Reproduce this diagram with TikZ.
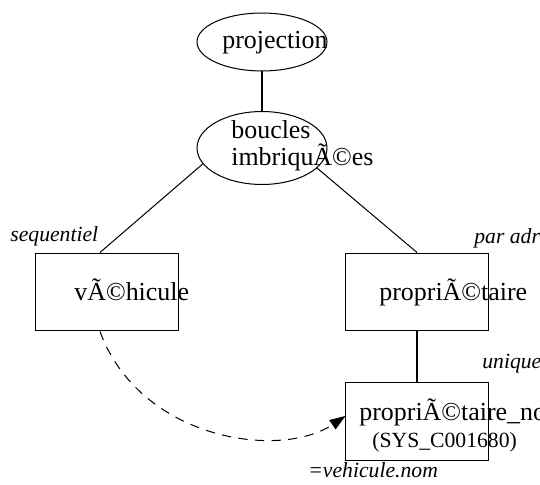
\documentclass[tikz,border=0pt]{standalone}
\usepackage{fontspec}
\setmainfont{Liberation Serif}
\usetikzlibrary{shapes.geometric, arrows.meta}
\tikzset{
  oval/.style={ellipse, draw=black, line width=0.55pt, inner sep=0pt, minimum width=70.2pt, minimum height=#1},
  oval/.default=31.3pt,
  tbox/.style={draw=black, line width=0.55pt, inner sep=0pt, minimum width=76.7pt, minimum height=#1},
  tbox/.default=42.1pt,
  txt/.style={anchor=base west, inner sep=0pt, font=\fontsize{14}{14}\selectfont},
  small/.style={anchor=base west, inner sep=0pt, font=\fontsize{11.7}{11.7}\selectfont},
  elab/.style={anchor=base west, inner sep=0pt, font=\fontsize{11.7}{11.7}\selectfont\itshape},
  link/.style={draw=black, line width=0.55pt},
  dlink/.style={draw=black, line width=0.55pt, dash pattern=on 5pt off 4pt,
                -{Triangle[length=8.5pt, width=6pt]}},
}
\begin{document}
\begin{tikzpicture}[x=0.54pt, y=-0.54pt]
  \useasboundingbox (0,0) rectangle (540,485);
  \clip (0,0) rectangle (540,485);
  \node[oval] (proj) at (262,42) {};
  \node[oval=39.4pt] (bouc) at (262,148) {};
  \node[tbox] (veh) at (107,292) {};
  \node[tbox] (prop) at (417,292) {};
  \node[tbox=41.6pt] (pnom) at (417,421.5) {};

  \node[txt] (tproj) at (222,48) {projection};
  \node[txt] (tbouc) at (231,138) {boucles};
  \node[txt] (timbr) at (231,165) {imbriquÃ©es};
  \node[txt] (tveh) at (74,300) {vÃ©hicule};
  \node[txt] (tprop) at (379,300) {propriÃ©taire};
  \node[txt] (tpnom) at (359,420) {propriÃ©taire\_no};
  \node[small] (tsys) at (372,447) {(SYS\_C001680)};

  \node[elab] (lseq) at (10,241) {sequentiel};
  \node[elab] (ladr) at (474,243) {par adr};
  \node[elab] (luniq) at (482,368) {unique};
  \node[elab] (lnom) at (308,477) {=vehicule.nom};

  \draw[link] (proj) -- (bouc);
  \draw[link] (bouc.195) -- ([xshift=-3.8pt]veh.north);
  \draw[link] (bouc.340) -- (prop.north);
  \draw[link] (prop) -- (pnom);
  \draw[dlink] ([xshift=-3.8pt]veh.south) .. controls (140,440) and (280,460) .. ([yshift=3pt]pnom.west);
\end{tikzpicture}
\end{document}
